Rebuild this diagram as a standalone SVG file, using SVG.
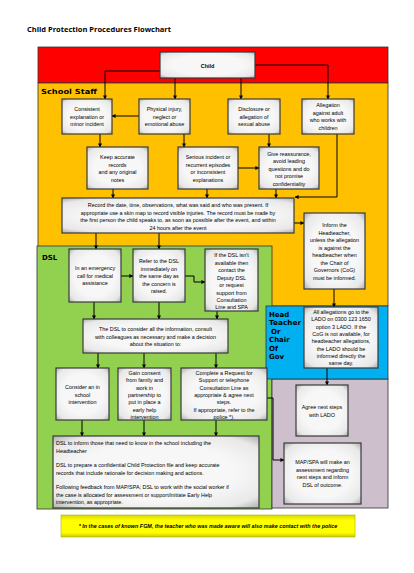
<svg xmlns="http://www.w3.org/2000/svg" width="414" height="573" viewBox="0 0 414 573">
<defs>
<radialGradient id="bx" cx="50%" cy="50%" r="70%">
<stop offset="0.55" stop-color="#f7f7f7"/>
<stop offset="0.85" stop-color="#e8e8e8"/>
<stop offset="1" stop-color="#b0b0b0"/>
</radialGradient>
<linearGradient id="yl" x1="0" y1="0" x2="0" y2="1">
<stop offset="0" stop-color="#d8d800"/>
<stop offset="0.25" stop-color="#ffff00"/>
<stop offset="0.8" stop-color="#ffff00"/>
<stop offset="1" stop-color="#c8c800"/>
</linearGradient>
<marker id="ah" viewBox="0 0 10 10" refX="9" refY="5" markerWidth="4" markerHeight="4" orient="auto" markerUnits="userSpaceOnUse">
<path d="M0,0 L10,5 L0,10 z" fill="#000"/>
</marker>
<style>
.bx{fill:url(#bx);stroke:#3a3a3a;stroke-width:1.2}
.t{font-family:"Liberation Sans",Arial,sans-serif;font-size:5.4px;fill:#000;text-anchor:middle}
.tl{font-family:"Liberation Sans",Arial,sans-serif;font-size:5.4px;fill:#000}
.lb{font-family:"DejaVu Sans","Liberation Sans",sans-serif;font-weight:bold;font-size:7px;fill:#000}
.c{fill:none;stroke:#000;stroke-width:1}
.rg{stroke:#333;stroke-width:0.8}
</style>
</defs>
<rect width="414" height="573" fill="#fff"/>
<text x="27" y="32" font-family="'Open Sans','Liberation Sans',sans-serif" font-weight="bold" font-size="7.5" fill="#000">Child Protection Procedures Flowchart</text>

<g id="regions">
<rect class="rg" x="38" y="47" width="350" height="36" fill="#ff0000"/>
<rect class="rg" x="38" y="83" width="350" height="223" fill="#ffc000"/>
<rect class="rg" x="37" y="246" width="235" height="263" fill="#92d050"/>
<rect class="rg" x="272" y="379" width="116" height="129" fill="#cdbfcb"/>
<rect class="rg" x="266" y="306" width="122" height="73" fill="#00b0f0"/>
<text class="lb" x="41" y="93.5" textLength="56" lengthAdjust="spacingAndGlyphs">School Staff</text>
<text class="lb" x="42" y="259.5" font-size="7.5">DSL</text>
<text class="lb" x="269" y="316.5">Head</text>
<text class="lb" x="269" y="325" textLength="32" lengthAdjust="spacingAndGlyphs">Teacher</text>
<text class="lb" x="271" y="333.5">Or</text>
<text class="lb" x="269" y="342">Chair</text>
<text class="lb" x="269" y="350.5">Of</text>
<text class="lb" x="269" y="359">Gov</text>
</g>

<g id="connectors">
<path class="c" d="M160,71 H105 V99" marker-end="url(#ah)"/>
<path class="c" d="M255,65 H328 V99" marker-end="url(#ah)"/>
<path class="c" d="M175,78 V99" marker-end="url(#ah)"/>
<path class="c" d="M241,78 V99" marker-end="url(#ah)"/>
<path class="c" d="M139,116 H112" marker-end="url(#ah)"/>
<path class="c" d="M100,134 V147" marker-end="url(#ah)"/>
<path class="c" d="M184,134 V147" marker-end="url(#ah)"/>
<path class="c" d="M269,134 V147" marker-end="url(#ah)"/>
<path class="c" d="M238,168 H259" marker-end="url(#ah)"/>
<path class="c" d="M337,134 V197 H295" marker-end="url(#ah)"/>
<path class="c" d="M113,189 V198" marker-end="url(#ah)"/>
<path class="c" d="M207,189 V198" marker-end="url(#ah)"/>
<path class="c" d="M276,189 V198" marker-end="url(#ah)"/>
<path class="c" d="M294,223 H304" marker-end="url(#ah)"/>
<path class="c" d="M334,289 V307" marker-end="url(#ah)"/>
<path class="c" d="M96,233 V249" marker-end="url(#ah)"/>
<path class="c" d="M159,233 V249" marker-end="url(#ah)"/>
<path class="c" d="M121,276 H133" marker-end="url(#ah)"/>
<path class="c" d="M185,276 H194 V282 H205" marker-end="url(#ah)"/>
<path class="c" d="M94,302 V319" marker-end="url(#ah)"/>
<path class="c" d="M159,302 V319" marker-end="url(#ah)"/>
<path class="c" d="M217,311 V319" marker-end="url(#ah)"/>
<path class="c" d="M98,353 V368" marker-end="url(#ah)"/>
<path class="c" d="M144,353 V368" marker-end="url(#ah)"/>
<path class="c" d="M216,353 V368" marker-end="url(#ah)"/>
<path class="c" d="M82,420 V436" marker-end="url(#ah)"/>
<path class="c" d="M144,420 V436" marker-end="url(#ah)"/>
<path class="c" d="M216,420 V436" marker-end="url(#ah)"/>
<path class="c" d="M267,398 H273 V460 H284" marker-end="url(#ah)"/>
<path class="c" d="M327,368 V385" marker-end="url(#ah)"/>
</g>

<g id="child">
<rect class="bx" x="160" y="52" width="95" height="26"/>
<text class="t" x="207.5" y="67.5" font-weight="bold" font-size="7">Child</text>
</g>

<g id="consistent">
<rect class="bx" x="62" y="99" width="50" height="35"/>
<text class="t" x="87" y="111">Consistent</text>
<text class="t" x="87" y="118.5">explanation or</text>
<text class="t" x="87" y="126">minor incident</text>
</g>

<g id="physical">
<rect class="bx" x="139" y="99" width="51" height="35"/>
<text class="t" x="164.5" y="111">Physical injury,</text>
<text class="t" x="164.5" y="118.5">neglect or</text>
<text class="t" x="164.5" y="126">emotional abuse</text>
</g>

<g id="disclosure">
<rect class="bx" x="228" y="99" width="52" height="35"/>
<text class="t" x="254" y="111">Disclosure or</text>
<text class="t" x="254" y="118.5">allegation of</text>
<text class="t" x="254" y="126">sexual abuse</text>
</g>

<g id="allegation">
<rect class="bx" x="302" y="99" width="52" height="35"/>
<text class="t" x="328" y="107">Allegation</text>
<text class="t" x="328" y="114.5">against adult</text>
<text class="t" x="328" y="122">who works with</text>
<text class="t" x="328" y="129.5">children</text>
</g>

<g id="keep">
<rect class="bx" x="87" y="147" width="61" height="42"/>
<text class="t" x="117.5" y="159">Keep accurate</text>
<text class="t" x="117.5" y="166.5">records</text>
<text class="t" x="117.5" y="174">and any original</text>
<text class="t" x="117.5" y="181.5">notes</text>
</g>

<g id="serious">
<rect class="bx" x="178" y="147" width="60" height="42"/>
<text class="t" x="208" y="159">Serious incident or</text>
<text class="t" x="208" y="166.5">recurrent episodes</text>
<text class="t" x="208" y="174">or inconsistent</text>
<text class="t" x="208" y="181.5">explanations</text>
</g>

<g id="reassurance">
<rect class="bx" x="259" y="147" width="60" height="42"/>
<text class="t" x="289" y="155.5">Give reassurance,</text>
<text class="t" x="289" y="163">avoid leading</text>
<text class="t" x="289" y="170.5">questions and do</text>
<text class="t" x="289" y="178">not promise</text>
<text class="t" x="289" y="185.5">confidentiality</text>
</g>

<g id="record">
<rect class="bx" x="62" y="198" width="232" height="35"/>
<text class="t" x="178" y="207">Record the date, time, observations, what was said and who was present. If</text>
<text class="t" x="178" y="214.5">appropriate use a skin map to record visible injuries. The record must be made by</text>
<text class="t" x="178" y="222">the first person the child speaks to, as soon as possible after the event, and within</text>
<text class="t" x="178" y="229.5">24 hours after the event</text>
</g>

<g id="inform">
<rect class="bx" x="304" y="213" width="61" height="76"/>
<text class="t" x="334.5" y="227">Inform the</text>
<text class="t" x="334.5" y="234.5">Headteacher,</text>
<text class="t" x="334.5" y="242">unless the allegation</text>
<text class="t" x="334.5" y="249.5">is against the</text>
<text class="t" x="334.5" y="257">headteacher when</text>
<text class="t" x="334.5" y="264.5">the Chair of</text>
<text class="t" x="334.5" y="272">Governors (CoG)</text>
<text class="t" x="334.5" y="279.5">must be informed.</text>
</g>

<g id="emergency">
<rect class="bx" x="69" y="249" width="52" height="53"/>
<text class="t" x="95" y="270">In an emergency</text>
<text class="t" x="95" y="277.5">call for medical</text>
<text class="t" x="95" y="285">assistance</text>
</g>

<g id="refer">
<rect class="bx" x="133" y="249" width="52" height="53"/>
<text class="t" x="159" y="263">Refer to the DSL</text>
<text class="t" x="159" y="270.5">immediately on</text>
<text class="t" x="159" y="278">the same day as</text>
<text class="t" x="159" y="285.5">the concern is</text>
<text class="t" x="159" y="293">raised.</text>
</g>

<g id="deputy">
<rect class="bx" x="205" y="249" width="53" height="62"/>
<text class="t" x="231.5" y="257">If the DSL isn't</text>
<text class="t" x="231.5" y="264.5">available then</text>
<text class="t" x="231.5" y="272">contact the</text>
<text class="t" x="231.5" y="279.5">Deputy DSL</text>
<text class="t" x="231.5" y="287">or request</text>
<text class="t" x="231.5" y="294.5">support from</text>
<text class="t" x="231.5" y="302">Consultation</text>
<text class="t" x="231.5" y="309">Line and SPA</text>
</g>

<g id="consider">
<rect class="bx" x="83" y="319" width="145" height="34"/>
<text class="t" x="155.5" y="331">The DSL to consider all the information, consult</text>
<text class="t" x="155.5" y="338.5">with colleagues as necessary and  make a decision</text>
<text class="t" x="155.5" y="346">about the situation to:</text>
</g>

<g id="school-intervention">
<rect class="bx" x="56" y="368" width="53" height="52"/>
<text class="t" x="82.5" y="389">Consider an in</text>
<text class="t" x="82.5" y="396.5">school</text>
<text class="t" x="82.5" y="404">intervention</text>
</g>

<g id="consent">
<rect class="bx" x="118" y="368" width="53" height="52"/>
<text class="t" x="144.5" y="375">Gain consent</text>
<text class="t" x="144.5" y="382.3">from family and</text>
<text class="t" x="144.5" y="389.6">work in</text>
<text class="t" x="144.5" y="396.9">partnership to</text>
<text class="t" x="144.5" y="404.2">put in place a</text>
<text class="t" x="144.5" y="411.5">early help</text>
<text class="t" x="144.5" y="418.5">intervention</text>
</g>

<g id="request">
<rect class="bx" x="181" y="368" width="86" height="52"/>
<text class="t" x="224" y="375">Complete a Request for</text>
<text class="t" x="224" y="382.3">Support or telephone</text>
<text class="t" x="224" y="389.6">Consultation Line as</text>
<text class="t" x="224" y="396.9">appropriate &amp; agree next</text>
<text class="t" x="224" y="404.2">steps.</text>
<text class="t" x="224" y="411.5">If appropriate, refer to the</text>
<text class="t" x="224" y="418.5">police *).</text>
</g>

<g id="inform-school">
<rect class="bx" x="53" y="436" width="206" height="72"/>
<text class="tl" x="56" y="445">DSL to inform those that need to know in the school including  the</text>
<text class="tl" x="56" y="452.5">Headteacher</text>
<text class="tl" x="56" y="467">DSL to prepare a confidential Child Protection file and keep accurate</text>
<text class="tl" x="56" y="474.5">records that include rationale for decision making and actions.</text>
<text class="tl" x="56" y="489">Following feedback from MAP/SPA; DSL to work with the social worker if</text>
<text class="tl" x="56" y="496.5">the case is allocated for assessment or support/initiate Early Help</text>
<text class="tl" x="56" y="504">intervention, as appropriate.</text>
</g>

<g id="lado">
<rect class="bx" x="304" y="307" width="74" height="61"/>
<text class="t" x="341" y="314">All allegations go to the</text>
<text class="t" x="341" y="321.3">LADO on 0300 123 1650</text>
<text class="t" x="341" y="328.6">option 3 LADO. If the</text>
<text class="t" x="341" y="335.9">CoG is not available, for</text>
<text class="t" x="341" y="343.2">headteacher allegations,</text>
<text class="t" x="341" y="350.5">the LADO should be</text>
<text class="t" x="341" y="357.8">informed directly the</text>
<text class="t" x="341" y="365">same day.</text>
</g>

<g id="agree">
<rect class="bx" x="296" y="385" width="52" height="51"/>
<text class="t" x="322" y="409">Agree next steps</text>
<text class="t" x="322" y="416.5">with LADO</text>
</g>

<g id="mapspa">
<rect class="bx" x="284" y="443" width="77" height="61"/>
<text class="t" x="322.5" y="464">MAP/SPA will make an</text>
<text class="t" x="322.5" y="471.5">assessment regarding</text>
<text class="t" x="322.5" y="479">next steps and inform</text>
<text class="t" x="322.5" y="486.5">DSL of outcome.</text>
</g>

<g id="footnote">
<rect x="61" y="515" width="294" height="22" fill="url(#yl)" stroke="#b0b000" stroke-width="0.6"/>
<text class="t" x="208" y="528" font-style="italic" font-weight="bold" font-size="5">* In the cases of known FGM, the teacher who was made aware will also make contact with the police</text>
</g>
</svg>
